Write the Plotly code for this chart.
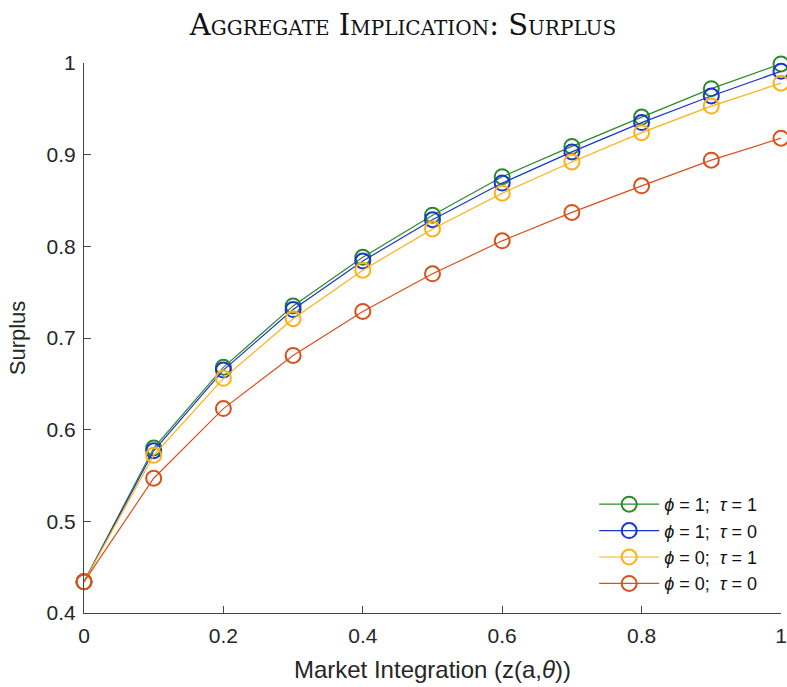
import plotly.graph_objects as go

x_vals = [0, 0.1, 0.2, 0.3, 0.4, 0.5, 0.6, 0.7, 0.8, 0.9, 1.0]
phi1_tau1 = [0.434, 0.580, 0.668, 0.735, 0.788, 0.834, 0.876, 0.909, 0.941, 0.972, 0.999]
phi1_tau0 = [0.434, 0.577, 0.665, 0.731, 0.784, 0.829, 0.869, 0.903, 0.935, 0.964, 0.991]
phi0_tau1 = [0.434, 0.572, 0.656, 0.721, 0.774, 0.819, 0.858, 0.892, 0.924, 0.953, 0.978]
phi0_tau0 = [0.434, 0.547, 0.623, 0.681, 0.729, 0.770, 0.806, 0.837, 0.866, 0.894, 0.918]

series = [
    ("<i>ϕ</i> = 1;  <i>τ</i> = 1", phi1_tau1, "#2A8A2A"),
    ("<i>ϕ</i> = 1;  <i>τ</i> = 0", phi1_tau0, "#1C35D0"),
    ("<i>ϕ</i> = 0;  <i>τ</i> = 1", phi0_tau1, "#FFB010"),
    ("<i>ϕ</i> = 0;  <i>τ</i> = 0", phi0_tau0, "#D9501A"),
]

fig = go.Figure()
for name, ys, col in series:
    fig.add_trace(go.Scatter(
        x=x_vals, y=ys, name=name, mode="lines+markers",
        line=dict(color=col, width=1.2),
        marker=dict(symbol="circle-open", size=15, color=col, line=dict(width=2, color=col)),
        cliponaxis=False,
    ))

font_main = "Liberation Sans, Arial, sans-serif"
fig.update_layout(
    width=787, height=687,
    paper_bgcolor="white", plot_bgcolor="white",
    margin=dict(l=84, r=6, t=63, b=74),
    font=dict(family=font_main, size=21, color="#262626"),
    title=dict(text="Aggregate Implication: Surplus", x=0.512, xanchor="center", y=0.979, yanchor="top",
               font=dict(family="DejaVu Serif, Liberation Serif, serif", size=29, color="#111111", variant="small-caps")),
    showlegend=True,
    legend=dict(x=0.973, y=0.02, xanchor="right", yanchor="bottom", bgcolor="rgba(255,255,255,0)",
                font=dict(family=font_main, size=18, color="#111111"), tracegroupgap=0, itemwidth=60),
    xaxis=dict(range=[0, 1], tickvals=[0, 0.2, 0.4, 0.6, 0.8, 1], ticktext=["0", "0.2", "0.4", "0.6", "0.8", "1"],
               showgrid=False, zeroline=False, showline=True, linecolor="#444444", linewidth=1.2,
               ticks="inside", ticklen=7, tickcolor="#444444", automargin=False, ticklabelstandoff=4,
               title=dict(text="Market Integration (z(a,<i>θ</i>))", standoff=14, font=dict(size=24))),
    yaxis=dict(range=[0.4, 1], tickvals=[0.4, 0.5, 0.6, 0.7, 0.8, 0.9, 1], ticktext=["0.4", "0.5", "0.6", "0.7", "0.8", "0.9", "1"],
               showgrid=False, zeroline=False, showline=True, linecolor="#444444", linewidth=1.2,
               ticks="inside", ticklen=7, tickcolor="#444444", automargin=False, ticklabelstandoff=3,
               title=dict(text="Surplus", standoff=14, font=dict(size=22))),
)

fig.write_html("out.html", config={"displayModeBar": False},
               post_script="document.body.style.margin='0';document.body.style.overflow='hidden';")
